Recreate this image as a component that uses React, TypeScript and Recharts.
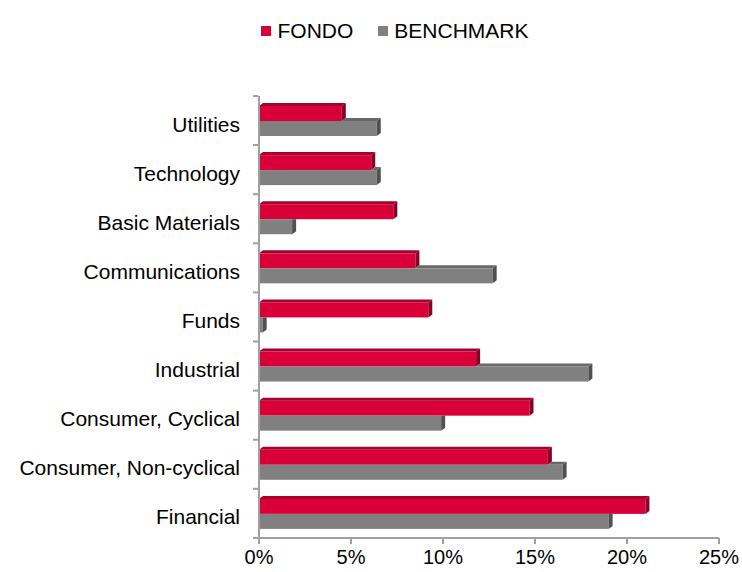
import { Bar, BarChart, Legend, XAxis, YAxis } from "recharts";

const categories = [
  "Utilities",
  "Technology",
  "Basic Materials",
  "Communications",
  "Funds",
  "Industrial",
  "Consumer, Cyclical",
  "Consumer, Non-cyclical",
  "Financial",
];
const fondo = [4.5, 6.1, 7.3, 8.5, 9.2, 11.8, 14.7, 15.7, 21.0];
const benchmark = [6.4, 6.4, 1.8, 12.7, 0.2, 17.9, 9.9, 16.5, 19.0];
const xTicks = [0, 5, 10, 15, 20, 25];

const data = categories.map((name, i) => ({ name, fondo: fondo[i], benchmark: benchmark[i] }));

const FONT = '"Liberation Sans", Arial, sans-serif';
const AXIS = "#a0a0a0";
const RED = { front: "#d9003a", top: "#a8002d", side: "#8a0025" };
const GREY = { front: "#808080", top: "#686868", side: "#505050" };
const DX = 4;
const DY = 3;

function FondoBar(p: any) {
  const { x, y, width: w, height: h } = p;
  if (!w || w <= 0) return null;
  return (
    <g>
      <rect x={x} y={y} width={w} height={h} fill={RED.front} />
      <polygon points={`${x},${y} ${x + DX},${y - DY} ${x + w + DX},${y - DY} ${x + w},${y}`} fill={RED.top} />
      <polygon points={`${x + w},${y} ${x + w + DX},${y - DY} ${x + w + DX},${y + h - DY} ${x + w},${y + h}`} fill={RED.side} />
    </g>
  );
}

function BenchBar(p: any) {
  const { x, y, width: w, height: h, payload } = p;
  if (!w || w <= 0) return null;
  const fx = x + (w * payload.fondo) / payload.benchmark;
  const hidden = fx >= x + w;
  return (
    <g>
      <rect x={x} y={y} width={w} height={h} fill={GREY.front} />
      {!hidden && (
        <polygon points={`${fx},${y} ${fx + DX},${y - DY} ${x + w + DX},${y - DY} ${x + w},${y}`} fill={GREY.top} />
      )}
      {hidden ? (
        <polygon points={`${x + w},${y} ${x + w + DX},${y} ${x + w + DX},${y + h - DY} ${x + w},${y + h}`} fill={GREY.side} />
      ) : (
        <polygon points={`${x + w},${y} ${x + w + DX},${y - DY} ${x + w + DX},${y + h - DY} ${x + w},${y + h}`} fill={GREY.side} />
      )}
    </g>
  );
}

function CatTick(p: any) {
  const { x, y, payload, index } = p;
  const half = 24.5;
  return (
    <g>
      <text x={x} y={y} dy={11} textAnchor="end" fontSize={21} fontFamily={FONT} fill="#000">
        {payload.value}
      </text>
      <line x1={x + 13} x2={x + 18} y1={y + half} y2={y + half} stroke={AXIS} strokeWidth={2} />
      {index === 0 && <line x1={x + 13} x2={x + 18} y1={y - half} y2={y - half} stroke={AXIS} strokeWidth={2} />}
    </g>
  );
}

function LegendBox() {
  const items = [
    { label: "FONDO", color: RED.front },
    { label: "BENCHMARK", color: GREY.front },
  ];
  return (
    <div
      style={{
        height: 82,
        display: "flex",
        justifyContent: "center",
        alignItems: "flex-start",
        paddingLeft: 71,
        paddingTop: 4,
        boxSizing: "border-box",
        fontFamily: FONT,
        fontSize: 21,
        color: "#000",
      }}
    >
      {items.map((it, i) => (
        <div key={it.label} style={{ display: "flex", alignItems: "center", marginLeft: i ? 25 : 0, lineHeight: "26px" }}>
          <span style={{ width: 10, height: 10, background: it.color, display: "inline-block", marginRight: 6 }} />
          {it.label}
        </div>
      ))}
    </div>
  );
}

export default function App() {
  return (
    <div style={{ position: "absolute", left: 0, top: 0, background: "#fff" }}>
      <BarChart
        width={742}
        height={572}
        layout="vertical"
        data={data}
        margin={{ top: 14, right: 23, bottom: 4, left: 0 }}
        barGap={0}
      >
        <Legend verticalAlign="top" content={() => <LegendBox />} />
        <XAxis
          type="number"
          domain={[0, 25]}
          ticks={xTicks}
          tickFormatter={(v) => `${v}%`}
          height={30}
          axisLine={{ stroke: AXIS, strokeWidth: 2 }}
          tickLine={{ stroke: AXIS, strokeWidth: 2 }}
          tickSize={6}
          tickMargin={6}
          tick={{ fontSize: 20, fontFamily: FONT, fill: "#000" }}
          interval={0}
        />
        <YAxis
          type="category"
          dataKey="name"
          width={259}
          axisLine={{ stroke: AXIS, strokeWidth: 2 }}
          tickLine={false}
          tickSize={0}
          tickMargin={19}
          tick={<CatTick />}
          interval={0}
        />
        <Bar dataKey="fondo" name="FONDO" barSize={15} fill={RED.front} shape={<FondoBar />} isAnimationActive={false} />
        <Bar dataKey="benchmark" name="BENCHMARK" barSize={15} fill={GREY.front} shape={<BenchBar />} isAnimationActive={false} />
      </BarChart>
    </div>
  );
}
